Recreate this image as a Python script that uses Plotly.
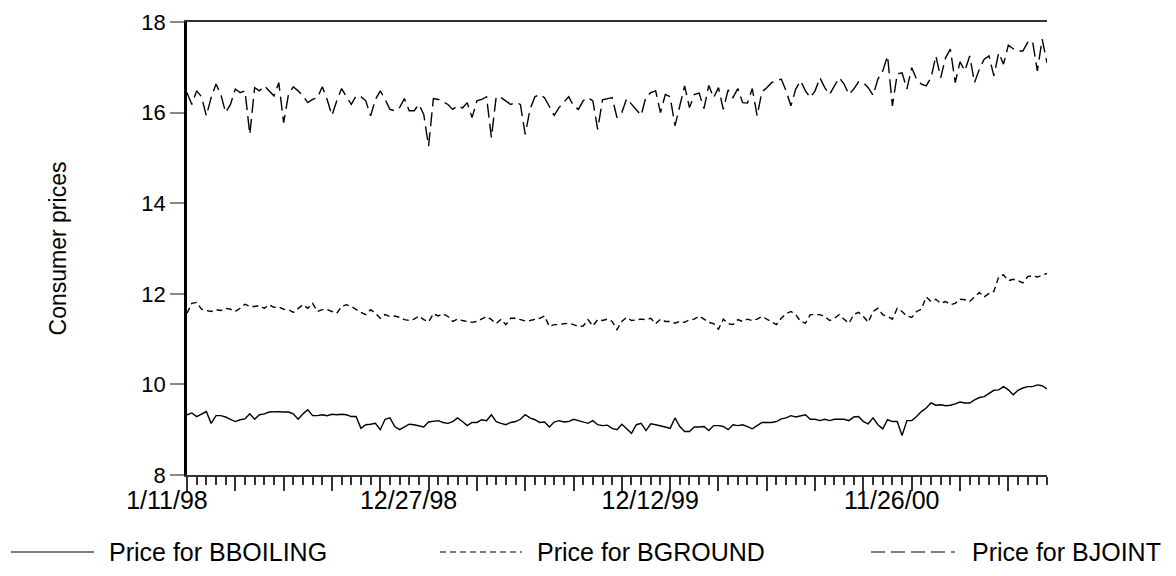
import plotly.graph_objects as go

bboiling = [9.33, 9.37, 9.29, 9.35, 9.40, 9.14, 9.31, 9.31, 9.28, 9.23,
            9.18, 9.22, 9.24, 9.35, 9.23, 9.33, 9.35, 9.39, 9.40, 9.40,
            9.39, 9.39, 9.35, 9.23, 9.35, 9.44, 9.31, 9.31, 9.33, 9.31,
            9.34, 9.33, 9.34, 9.33, 9.29, 9.29, 9.03, 9.11, 9.12, 9.14,
            9.00, 9.23, 9.26, 9.07, 9.00, 9.06, 9.12, 9.11, 9.09, 9.06,
            9.17, 9.18, 9.20, 9.16, 9.14, 9.18, 9.26, 9.18, 9.09, 9.16,
            9.16, 9.22, 9.20, 9.33, 9.18, 9.14, 9.11, 9.16, 9.18, 9.23,
            9.33, 9.26, 9.22, 9.16, 9.17, 9.06, 9.17, 9.20, 9.17, 9.18,
            9.23, 9.20, 9.17, 9.14, 9.20, 9.11, 9.09, 9.10, 9.03, 9.00,
            9.12, 9.03, 8.92, 9.11, 9.14, 8.98, 9.13, 9.11, 9.09, 9.06,
            9.03, 9.26, 9.07, 8.96, 8.96, 9.06, 9.06, 9.07, 8.98, 9.09,
            9.09, 9.07, 9.00, 9.11, 9.09, 9.11, 9.07, 9.02, 9.09, 9.16,
            9.16, 9.16, 9.18, 9.24, 9.26, 9.31, 9.28, 9.31, 9.33, 9.23,
            9.23, 9.20, 9.23, 9.20, 9.23, 9.23, 9.23, 9.20, 9.28, 9.29,
            9.18, 9.13, 9.26, 9.11, 9.02, 9.22, 9.18, 9.18, 8.87, 9.20,
            9.20, 9.29, 9.40, 9.48, 9.59, 9.54, 9.55, 9.53, 9.54, 9.57,
            9.61, 9.59, 9.59, 9.66, 9.71, 9.73, 9.81, 9.87, 9.88, 9.95,
            9.88, 9.77, 9.87, 9.92, 9.95, 9.95, 9.99, 9.97, 9.90]

bground = [11.57, 11.79, 11.81, 11.66, 11.63, 11.61, 11.65, 11.63, 11.68, 11.66,
           11.61, 11.68, 11.77, 11.72, 11.72, 11.74, 11.68, 11.76, 11.70, 11.71,
           11.66, 11.65, 11.59, 11.68, 11.76, 11.68, 11.79, 11.61, 11.65, 11.65,
           11.61, 11.57, 11.72, 11.76, 11.72, 11.65, 11.59, 11.54, 11.65, 11.57,
           11.46, 11.54, 11.50, 11.51, 11.48, 11.43, 11.41, 11.44, 11.51, 11.43,
           11.38, 11.56, 11.51, 11.56, 11.50, 11.39, 11.44, 11.41, 11.39, 11.37,
           11.39, 11.44, 11.50, 11.43, 11.34, 11.44, 11.32, 11.46, 11.46, 11.43,
           11.40, 11.41, 11.43, 11.46, 11.51, 11.28, 11.32, 11.32, 11.34, 11.35,
           11.32, 11.28, 11.29, 11.43, 11.29, 11.43, 11.41, 11.44, 11.39, 11.21,
           11.39, 11.48, 11.41, 11.43, 11.44, 11.43, 11.46, 11.34, 11.44, 11.39,
           11.39, 11.35, 11.39, 11.37, 11.43, 11.44, 11.51, 11.44, 11.37, 11.34,
           11.22, 11.44, 11.34, 11.32, 11.43, 11.39, 11.44, 11.41, 11.44, 11.50,
           11.44, 11.39, 11.32, 11.46, 11.56, 11.61, 11.54, 11.39, 11.35, 11.54,
           11.54, 11.54, 11.50, 11.41, 11.46, 11.54, 11.44, 11.35, 11.54, 11.59,
           11.50, 11.37, 11.61, 11.68, 11.54, 11.50, 11.44, 11.68, 11.61, 11.51,
           11.48, 11.61, 11.66, 11.93, 11.83, 11.88, 11.79, 11.83, 11.76, 11.79,
           11.88, 11.87, 11.83, 11.94, 12.03, 11.93, 12.01, 12.05, 12.37, 12.42,
           12.29, 12.32, 12.29, 12.24, 12.38, 12.40, 12.37, 12.41, 12.45]

bjoint = [16.44, 16.18, 16.48, 16.35, 15.93, 16.33, 16.63, 16.40, 16.00, 16.18,
          16.52, 16.44, 16.48, 15.52, 16.55, 16.48, 16.59, 16.48, 16.37, 16.66,
          15.78, 16.40, 16.57, 16.48, 16.37, 16.22, 16.29, 16.33, 16.57, 16.29,
          15.94, 16.26, 16.53, 16.35, 16.18, 16.37, 16.35, 16.26, 15.93, 16.29,
          16.48, 16.29, 16.07, 16.04, 16.11, 16.31, 16.04, 16.04, 16.18, 15.96,
          15.26, 16.31, 16.29, 16.24, 16.18, 16.07, 16.15, 16.10, 16.22, 15.89,
          16.26, 16.29, 16.35, 15.45, 16.35, 16.33, 16.26, 16.18, 16.22, 16.18,
          15.52, 16.07, 16.35, 16.40, 16.33, 16.15, 15.94, 16.11, 16.22, 16.35,
          16.15, 16.07, 16.26, 16.33, 16.26, 15.63, 16.28, 16.31, 16.33, 15.89,
          16.00, 16.31, 16.18, 16.07, 15.94, 16.35, 16.44, 16.48, 16.00, 16.40,
          16.35, 15.71, 16.15, 16.59, 16.11, 16.40, 16.43, 16.09, 16.60, 16.33,
          16.55, 16.07, 16.50, 16.33, 16.53, 16.22, 16.21, 16.53, 15.93, 16.46,
          16.55, 16.66, 16.70, 16.74, 16.48, 16.15, 16.52, 16.70, 16.48, 16.33,
          16.48, 16.77, 16.55, 16.40, 16.59, 16.77, 16.63, 16.40, 16.52, 16.68,
          16.66, 16.55, 16.38, 16.74, 16.92, 17.25, 16.15, 16.85, 16.88, 16.52,
          16.99, 16.74, 16.63, 16.59, 16.77, 17.25, 16.77, 17.21, 17.40, 16.66,
          17.12, 16.92, 17.25, 16.66, 16.96, 17.18, 17.25, 16.81, 17.32, 17.07,
          17.49, 17.41, 17.36, 17.36, 17.55, 17.58, 16.92, 17.62, 17.10]

tick_pos = [0, 50, 100, 150]
tick_labels = ["1/11/98", "12/27/98", "12/12/99", "11/26/00"]

series = [
    ("Price for BBOILING", bboiling, "solid"),
    ("Price for BGROUND", bground, "6px,4px"),
    ("Price for BJOINT", bjoint, "14px,6px"),
]

FONT = "Liberation Sans, Arial, sans-serif"
# the page body adds an 8px offset; the figure is sized so it fits the window
OFF = 8
W, H = 1176 - OFF, 576 - OFF
L, T = 187 - OFF, 22 - OFF
R, B = 1176 - 1047, 576 - 475
PW, PH = W - L - R, H - T - B

fig = go.Figure()
for name, vals, dash in series:
    fig.add_trace(go.Scatter(x=list(range(len(vals))), y=vals, mode="lines",
                             name=name, line=dict(color="black", width=1.4, dash=dash),
                             showlegend=False))

n = len(bjoint)
major = list(range(0, n, 10))
major_text = [tick_labels[tick_pos.index(v)] if v in tick_pos else "" for v in major]

fig.update_layout(
    width=W, height=H,
    margin=dict(l=L, r=R, t=T, b=B, autoexpand=False),
    paper_bgcolor="white", plot_bgcolor="white",
    font=dict(family=FONT, size=22, color="black"),
    xaxis=dict(range=[0, n - 1], tickmode="array", tickvals=major, ticktext=major_text,
               ticks="outside", ticklen=14, tickwidth=1.5, tickcolor="#333",
               showline=True, linecolor="#333", linewidth=2, mirror=True,
               showgrid=False, zeroline=False, ticklabelshift=-20,
               ticklabelstandoff=-12, automargin=False,
               tickfont=dict(size=25),
               minor=dict(dtick=2, tick0=0, ticks="outside", ticklen=8,
                          tickwidth=1.5, tickcolor="#333", showgrid=False)),
    yaxis=dict(range=[8, 18], tickvals=[8, 10, 12, 14, 16, 18],
               ticks="outside", ticklen=14, tickwidth=1.5, tickcolor="#888",
               showline=True, linecolor="black", linewidth=2.5, automargin=False,
               showgrid=False, zeroline=False, tickfont=dict(size=22),
               title=dict(text="Consumer prices", font=dict(size=23), standoff=69)),
)

# legend drawn at the bottom (positions in page pixels)
for (name, vals, dash), (x0, x1, tx) in zip(series, [(11, 94, 107), (440, 522, 535), (871, 955, 970)]):
    yl = (475 - 552) / PH
    fig.add_shape(type="line", xref="paper", yref="paper",
                  x0=(x0 - 187) / PW, x1=(x1 - 187) / PW, y0=yl, y1=yl,
                  line=dict(color="black", width=1.2, dash=dash))
    fig.add_annotation(text=name, xref="paper", yref="paper",
                       x=(tx - 187) / PW, y=yl,
                       xanchor="left", yanchor="middle", showarrow=False,
                       font=dict(size=25, family=FONT))

fig.write_html("out.html")
